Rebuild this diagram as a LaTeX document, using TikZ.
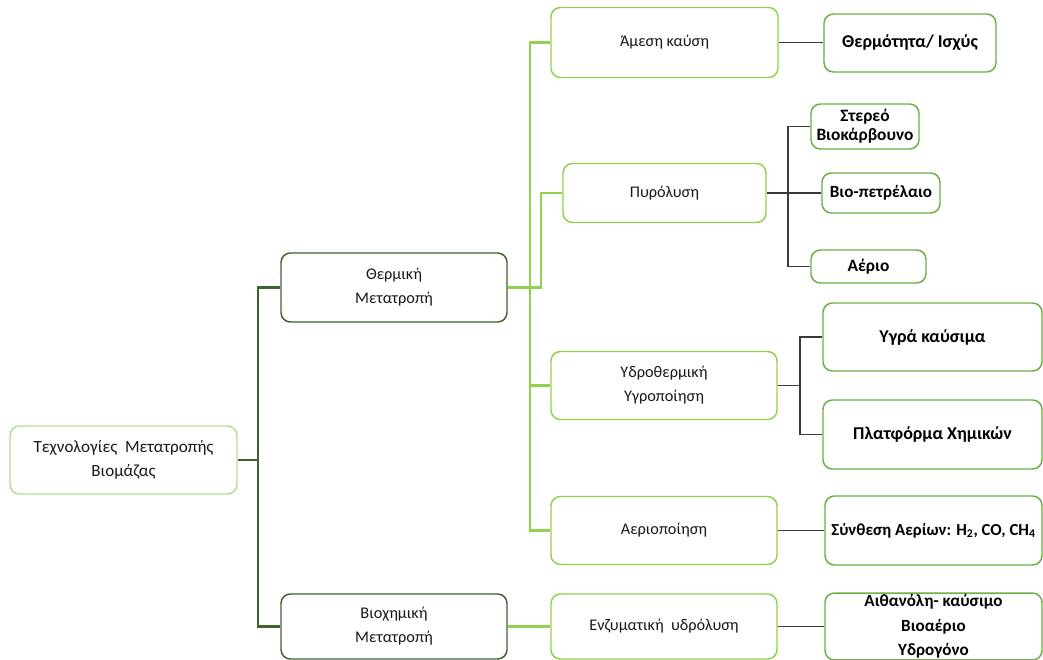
\documentclass[tikz,border=0pt]{standalone}
\usepackage{fontspec}
\setmainfont{Carlito}
\usepackage{tikz}
\usetikzlibrary{positioning,calc}
\usepackage{xcolor}

\definecolor{leafgreen}{HTML}{92D050}
\definecolor{palegreen}{HTML}{B5DC95}
\definecolor{darkgreen}{HTML}{3F6230}
\definecolor{midgreen}{HTML}{70AD47}
\definecolor{linegrey}{HTML}{3A3A3A}

\begin{document}
\begin{tikzpicture}[
    x=0.75pt, y=-0.75pt,
    box/.style={rectangle, rounded corners=7pt, fill=white, line width=1.1pt, align=center, inner sep=1pt, text=black!90, font=\fontsize{12.2}{18}\selectfont},
    rootbox/.style={box, draw=palegreen},
    mainbox/.style={box, draw=darkgreen},
    techbox/.style={box, draw=leafgreen},
    outbox/.style={box, draw=midgreen, text=black, font=\bfseries\fontsize{#1}{18}\selectfont},
    outbox/.default=13,
    darkline/.style={draw=darkgreen, line width=1.6pt},
    greenline/.style={draw=leafgreen, line width=1.6pt},
    greyline/.style={draw=linegrey, line width=1.2pt}
]
\useasboundingbox (0,0) rectangle (1043,660);

% Nodes
\node[rootbox, minimum width=170.25pt, minimum height=51pt, font=\fontsize{12.8}{18}\selectfont] (root) at (123.5,460) {Τεχνολογίες\ \ Μετατροπής\\Βιομάζας};

\node[mainbox, minimum width=169.5pt, minimum height=51.75pt] (therm) at (394,287.5) {Θερμική\\Μετατροπή};
\node[mainbox, minimum width=169.5pt, minimum height=48.75pt] (bio) at (394,626.5) {Βιοχημική\\Μετατροπή};

\node[techbox, minimum width=170.25pt, minimum height=52.5pt] (amesi) at (664.5,42.5) {Άμεση καύση};
\node[techbox, minimum width=152.25pt, minimum height=44.25pt] (pyro) at (664.5,193) {Πυρόλυση};
\node[techbox, minimum width=169.5pt, minimum height=51pt] (ydro) at (664,385.5) {Υδροθερμική\\Υγροποίηση};
\node[techbox, minimum width=169.5pt, minimum height=51pt] (aerio) at (664,530.5) {Αεριοποίηση};
\node[techbox, minimum width=169.5pt, minimum height=48.75pt] (enz) at (664,626.5) {Ενζυματική\ \ υδρόλυση};

\node[outbox=13.5, minimum width=129pt, minimum height=43.5pt] (heat) at (910,43) {Θερμότητα/ Ισχύς};
\node[outbox, minimum width=81pt, minimum height=33.75pt, font=\bfseries\fontsize{13}{14}\selectfont] (char) at (865,126.5) {Στερεό\\Βιοκάρβουνο};
\node[outbox=12.8, minimum width=88.5pt, minimum height=30pt] (oil) at (881,193) {Βιο-πετρέλαιο};
\node[outbox, minimum width=86.25pt, minimum height=24.75pt] (gas) at (868.5,266.5) {Αέριο};
\node[outbox=13.5, minimum width=164.25pt, minimum height=51pt] (fuel) at (932.5,337) {Υγρά καύσιμα};
\node[outbox=13.5, minimum width=164.25pt, minimum height=51.75pt] (chem) at (932.5,434.5) {Πλατφόρμα Χημικών};
\node[outbox=12.6, minimum width=162.75pt, minimum height=51.75pt] (syn) at (933.5,530.5) {Σύνθεση Αερίων: H\textsubscript{2}, CO, CH\textsubscript{4}};
\node[outbox, minimum width=162.75pt, minimum height=49.5pt, font=\bfseries\fontsize{12.8}{18.5}\selectfont] (eth) at (933.5,626.5) {Αιθανόλη- καύσιμο\\Βιοαέριο\\Υδρογόνο};

% Bus lines
\coordinate (rbus) at (258,0);
\coordinate (tbus) at (530,0);
\coordinate (pbus) at (541,0);
\coordinate (obus) at (788,0);
\coordinate (ybus) at (800,0);

% Connections
\draw[darkline] (root.east) -- (root.east -| rbus);
\draw[darkline] (therm.west) -| (bio.west -| rbus) -- (bio.west);

\draw[greenline] (amesi.west) -| (aerio.west -| tbus) -- (aerio.west);
\draw[greenline] (ydro.west -| tbus) -- (ydro.west);
\draw[greenline] (therm.east) -| (pyro.west -| pbus) -- (pyro.west);
\draw[greenline] (bio.east) -- (enz.west);

\draw[greyline] (amesi.east) -- (amesi.east -| heat.west);
\draw[greyline] (pyro.east) -- (oil.west);
\draw[greyline] (char.west) -| (gas.west -| obus) -- (gas.west);
\draw[greyline] (ydro.east) -- (ydro.east -| ybus);
\draw[greyline] (fuel.west) -| (chem.west -| ybus) -- (chem.west);
\draw[greyline] (aerio.east) -- (syn.west);
\draw[greyline] (enz.east) -- (eth.west);

\end{tikzpicture}
\end{document}
